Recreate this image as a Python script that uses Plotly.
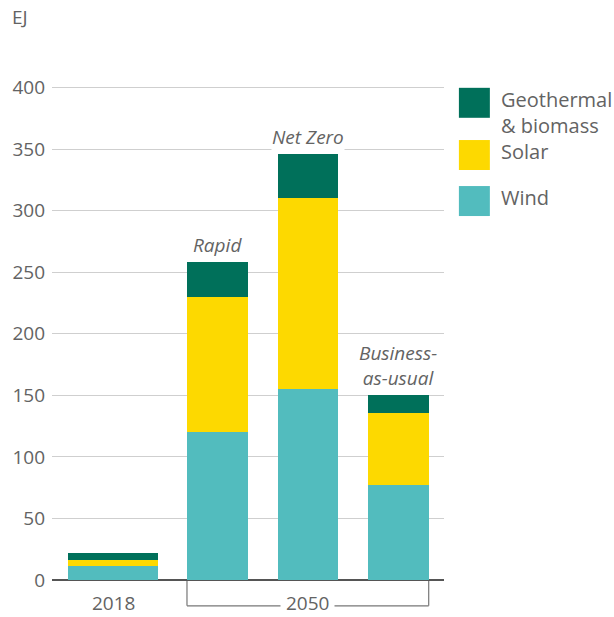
import plotly.graph_objects as go

# Data
scenarios = ["2018", "Rapid", "Net Zero", "Business-<br>as-usual"]
x_pos = [0, 1.15, 2.15, 3.15]
bar_widths = [1.0, 0.67, 0.67, 0.67]
wind = [11, 120, 155, 77]
solar = [5.5, 110, 155, 59]
geo_bio = [5.5, 28, 36, 14]
series_names = ["Wind", "Solar", "Geothermal<br>& biomass"]
y_ticks = [0, 50, 100, 150, 200, 250, 300, 350, 400]

colors = {"Wind": "#52BCBE", "Solar": "#FDD900", "Geo": "#00705A"}
TXT = "#636363"
FONT = "Open Sans, Arial, sans-serif"
FS = 19

fig = go.Figure()
for name, vals, col in [("Wind", wind, colors["Wind"]),
                        ("Solar", solar, colors["Solar"]),
                        ("Geo", geo_bio, colors["Geo"])]:
    fig.add_trace(go.Bar(x=x_pos, y=vals, width=bar_widths, marker=dict(color=col, line=dict(width=0)),
                         name=name, showlegend=False, hoverinfo="skip"))

totals = [w + s + g for w, s, g in zip(wind, solar, geo_bio)]
annotations = []
for i in range(1, 4):
    annotations.append(dict(x=x_pos[i], y=totals[i], xref="x", yref="y", text=scenarios[i],
                            showarrow=False, yanchor="bottom", yshift=3,
                            font=dict(family=FONT, size=FS, color=TXT, style="italic"),
                            bgcolor="white", borderpad=0))

label_y = -0.044
annotations.append(dict(x=x_pos[0], y=label_y, xref="x", yref="paper", text="2018", showarrow=False,
                        yanchor="middle", borderpad=0, font=dict(family=FONT, size=FS, color=TXT)))
annotations.append(dict(x=(x_pos[1] + x_pos[3]) / 2, y=label_y, xref="x", yref="paper", text="\u00a02050\u00a0",
                        showarrow=False, yanchor="middle", bgcolor="white", borderpad=0,
                        font=dict(family=FONT, size=FS, color=TXT)))
annotations.append(dict(x=-0.107, y=1.118, xref="paper", yref="paper", text="EJ", showarrow=False,
                        xanchor="left", yanchor="top", font=dict(family=FONT, size=FS, color=TXT)))

shapes = []
bl = x_pos[1] - bar_widths[1] / 2
br = x_pos[3] + bar_widths[3] / 2
bracket_y = -0.05
for xx in (bl, br):
    shapes.append(dict(type="line", xref="x", yref="paper", x0=xx, x1=xx, y0=0, y1=bracket_y,
                       line=dict(color="#777", width=1.2), layer="below"))
shapes.append(dict(type="line", xref="x", yref="paper", x0=bl, x1=br, y0=bracket_y, y1=bracket_y,
                   line=dict(color="#777", width=1.2), layer="below"))

legend_items = [(series_names[2], colors["Geo"], 0.952), (series_names[1], colors["Solar"], 0.851),
                (series_names[0], colors["Wind"], 0.762)]
for label, col, ytop in legend_items:
    shapes.append(dict(type="rect", xref="paper", yref="paper", x0=1.038, x1=1.117,
                       y0=ytop - 0.058, y1=ytop, fillcolor=col, line=dict(width=0)))
    annotations.append(dict(x=1.14, y=ytop + 0.008, xref="paper", yref="paper", text=label,
                            showarrow=False, xanchor="left", yanchor="top", align="left",
                            font=dict(family=FONT, size=FS + 1, color=TXT)))

fig.update_layout(
    width=614, height=617,
    margin=dict(l=50, r=170, t=63, b=37),
    paper_bgcolor="white", plot_bgcolor="white",
    barmode="stack", bargap=0,
    font=dict(family=FONT, size=FS, color=TXT),
    xaxis=dict(range=[-0.676, 3.654], showticklabels=False, showgrid=False, zeroline=False,
               showline=False, fixedrange=True),
    yaxis=dict(range=[0, 420], tickvals=y_ticks, showgrid=True, gridcolor="#CFCFCF", gridwidth=1,
               zeroline=True, zerolinecolor="#555555", zerolinewidth=2, showline=False,
               tickfont=dict(family=FONT, size=FS, color=TXT), ticklabelstandoff=6),
    annotations=annotations,
    shapes=shapes,
)

fig.write_html("out.html", config={"displayModeBar": False},
               post_script="document.body.style.margin='0';document.body.style.overflow='hidden';")
